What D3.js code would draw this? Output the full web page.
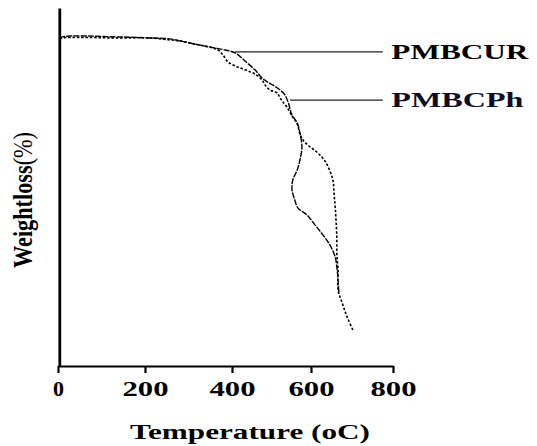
<!DOCTYPE html>
<html>
<head>
<meta charset="utf-8">
<script src="https://cdn.jsdelivr.net/npm/d3@7/dist/d3.min.js"></script>
<style>
    body { margin: 0; background: #ffffff; }
    text { font-family: "Liberation Serif", "Times New Roman", serif; font-weight: bold; }
</style>
</head>
<body>
<div id="chart"></div>
<script>

// x axis ticks (oC)
let xTicks = [0, 200, 400, 600, 800];

// PMBCUR curve
let curTemp   = [4.6, 9.2, 142, 211, 257, 280, 315, 338, 361, 384, 408, 433, 458, 476, 489, 504, 522, 534, 542, 552, 565, 572, 577, 572, 565, 554, 552, 559, 567, 590, 610, 629, 646, 659, 663, 666, 668];
let curWeight = [100.5, 101.1, 101.1, 100.8, 100.5, 99.9, 98.9, 98.3, 97.7, 97.1, 96.2, 93.7, 91.0, 88.5, 87.3, 86.3, 84.8, 83.3, 81.1, 77.1, 74.7, 71.6, 67.3, 63.3, 60.2, 57.2, 54.1, 51.0, 48.5, 46.4, 43.3, 40.3, 37.2, 33.5, 30.4, 26.4, 22.4];

// PMBCPh curve
let phTemp   = [4.6, 9.2, 142, 211, 257, 280, 315, 338, 368, 379, 391, 408, 433, 458, 476, 484, 496, 514, 522, 529, 539, 552, 565, 572, 580, 592, 617, 634, 646, 654, 656, 659, 661, 663, 663, 666, 666, 676, 688, 702];
let phWeight = [100.5, 100.8, 100.8, 100.8, 100.2, 99.9, 98.9, 98.3, 97.1, 95.6, 93.4, 92.2, 91.0, 89.7, 87.9, 86.3, 84.8, 83.9, 82.3, 81.1, 79.6, 76.8, 74.4, 71.3, 69.4, 67.9, 65.4, 63.0, 59.9, 56.8, 53.2, 48.9, 44.9, 39.6, 34.7, 29.5, 23.4, 19.4, 15.1, 11.1];

// label names and where their leader lines touch the curves
let seriesNames  = ["PMBCUR", "PMBCPh"];
let leaderTemp   = [408, 547];
let leaderWeight = [96.5, 81.7];

main();

function main() {

    let width = 537;
    let height = 446;

    let svg = d3.select("#chart")
        .append("svg")
        .attr("width", width)
        .attr("height", height);

    // hand drawn axis in the original is not evenly spaced
    let x = d3.scaleLinear()
        .domain(xTicks)
        .range([58, 145, 232, 311, 393]);

    let y = d3.scaleLinear()
        .domain([0, 110])
        .range([366, 8]);

    //axes
    let xAxis = svg.append("g")
        .attr("transform", "translate(0," + y(0) + ")")
        .call(d3.axisBottom(x).tickValues(xTicks).tickSize(7).tickSizeOuter(0).tickPadding(8).tickFormat(d3.format("d")));
    xAxis.select(".domain").attr("stroke", "#000").attr("stroke-width", 2.2);
    xAxis.selectAll(".tick line").attr("stroke", "#000").attr("stroke-width", 2.2);
    xAxis.selectAll(".tick text")
        .attr("fill", "#000")
        .style("font-size", "21px")
        .style("font-family", "'Liberation Serif', serif")
        .style("font-weight", "bold")
        .attr("textLength", (d) => d === 0 ? 11 : 46)
        .attr("lengthAdjust", "spacingAndGlyphs");

    let yAxis = svg.append("g")
        .attr("transform", "translate(" + (x(0) + 1.3) + ",0)")
        .call(d3.axisLeft(y).tickValues([]).tickSizeOuter(0));
    yAxis.select(".domain").attr("stroke", "#000").attr("stroke-width", 2.8);

    //curves
    let line = d3.line()
        .x((d) => x(d[0]))
        .y((d) => y(d[1]))
        .curve(d3.curveCatmullRom.alpha(0.5));

    let curData = curTemp.map((t, i) => [t, curWeight[i]]);
    let phData = phTemp.map((t, i) => [t, phWeight[i]]);

    svg.append("path")
        .datum(curData)
        .attr("d", line)
        .attr("fill", "none")
        .attr("stroke", "#000")
        .attr("stroke-width", 1.4)
        .attr("stroke-dasharray", "6,1.2");

    svg.append("path")
        .datum(phData)
        .attr("d", line)
        .attr("fill", "none")
        .attr("stroke", "#000")
        .attr("stroke-width", 1.6)
        .attr("stroke-dasharray", "2.5,1.8");

    //labels
    let labelEnd = 775;
    let labelStart = 796;
    let labelWidth = [137, 132];

    seriesNames.forEach((name, i) => {
        svg.append("line")
            .attr("x1", x(leaderTemp[i]))
            .attr("y1", y(leaderWeight[i]))
            .attr("x2", x(labelEnd))
            .attr("y2", y(leaderWeight[i]))
            .attr("stroke", "#222")
            .attr("stroke-width", 1.2);

        svg.append("text")
            .attr("x", x(labelStart))
            .attr("y", y(leaderWeight[i]) + 7)
            .attr("fill", i === 0 ? "#000" : "#0d0d26")
            .style("font-size", "21px")
            .attr("textLength", labelWidth[i])
            .attr("lengthAdjust", "spacingAndGlyphs")
            .text(name);
    });

    //axis titles
    svg.append("text")
        .attr("x", 250)
        .attr("y", 439)
        .attr("text-anchor", "middle")
        .style("font-size", "22px")
        .attr("textLength", 240)
        .attr("lengthAdjust", "spacingAndGlyphs")
        .text("Temperature (oC)");

    let yTitle = svg.append("text")
        .attr("transform", "translate(32,200) scale(1.35,1) rotate(-90)")
        .attr("text-anchor", "middle")
        .style("font-size", "20px")
        .attr("textLength", 136)
        .attr("lengthAdjust", "spacingAndGlyphs");
    yTitle.append("tspan").text("Weightloss");
    yTitle.append("tspan").style("font-weight", "normal").text("(%)");
}
</script>
</body>
</html>
